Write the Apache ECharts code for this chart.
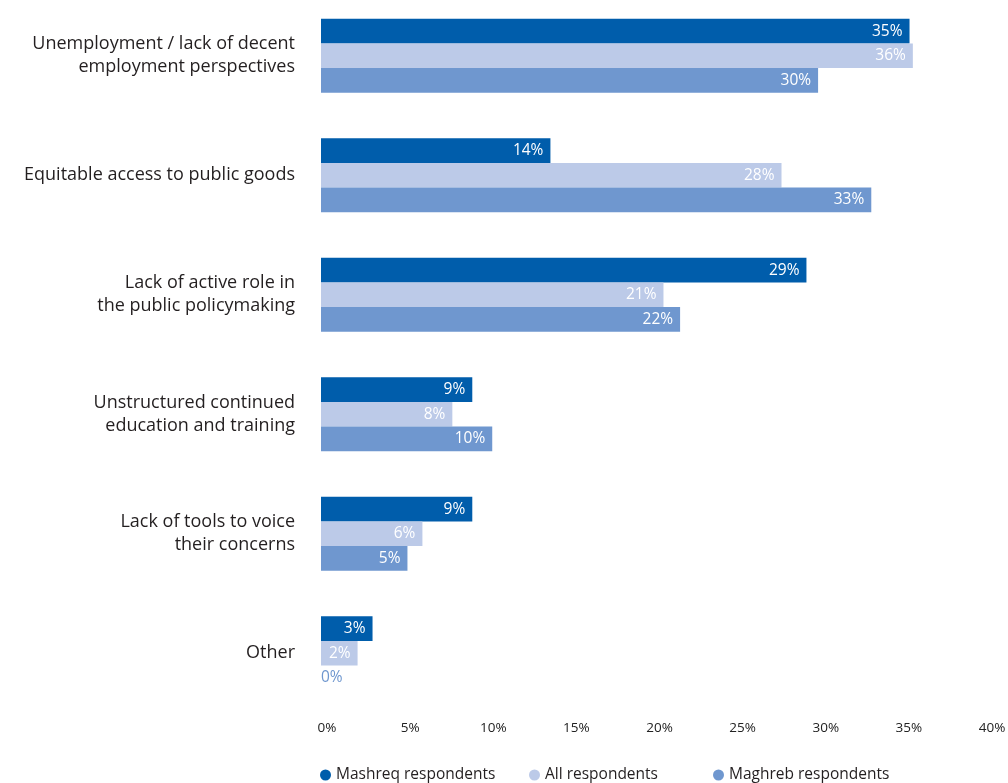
<!DOCTYPE html>
<html>
<head>
<meta charset="utf-8">
<script src="https://cdn.jsdelivr.net/npm/echarts@6/dist/echarts.min.js"></script>
<style>
  html, body { margin: 0; padding: 0; background: #ffffff; }
  #chart { width: 1008px; height: 783px; }
</style>
</head>
<body>
<div id="chart"></div>
<script>
// Challenges named by respondents, share of each group (%)
const categories = [
  'Unemployment / lack of decent\nemployment perspectives',
  'Equitable access to public goods',
  'Lack of active role in\nthe public policymaking',
  'Unstructured continued\neducation and training',
  'Lack of tools to voice\ntheir concerns',
  'Other'
];
const seriesNames = ['Mashreq respondents', 'All respondents', 'Maghreb respondents'];
const mashreq = [35.4, 13.8, 29.2, 9.1, 9.1, 3.1];
const allResp = [35.6, 27.7, 20.6, 7.9, 6.1, 2.2];
const maghreb = [29.9, 33.1, 21.6, 10.3, 5.2, 0];
const xTicks = [0, 5, 10, 15, 20, 25, 30, 35, 40];

const colors = ['#005dab', '#bccae8', '#6f97cf'];
const FONT = '"Open Sans", Lato, sans-serif';

function makeSeries(name, values, color) {
  return {
    name: name,
    type: 'bar',
    barWidth: 24.6,
    barGap: '0%',
    itemStyle: { color: color },
    label: {
      show: true,
      position: 'insideRight',
      distance: 7,
      color: '#ffffff',
      fontFamily: FONT,
      fontSize: 15.5,
      formatter: p => Math.round(p.value) + '%'
    },
    data: values.map(v => v === 0
      ? { value: v, label: { position: 'right', distance: 0, color: color } }
      : v)
  };
}

// one legend block per series, each placed at its own column
const legendLefts = [320, 529, 713];
const legends = seriesNames.map((name, i) => ({
  top: 767,
  left: legendLefts[i],
  padding: 0,
  icon: 'circle',
  itemWidth: 11,
  itemHeight: 11,
  itemGap: 0,
  textStyle: { color: '#231f20', fontFamily: FONT, fontSize: 15.5 },
  data: [name]
}));

const chart = echarts.init(document.getElementById('chart'), null, { renderer: 'canvas' });
chart.setOption({
  animation: false,
  color: colors,
  grid: {
    left: 321, right: 22, top: -4, bottom: 70,
    containLabel: false,
    outerBoundsMode: 'none'
  },
  xAxis: {
    type: 'value',
    min: xTicks[0],
    max: xTicks[xTicks.length - 1],
    interval: xTicks[1] - xTicks[0],
    axisLine: { show: false },
    axisTick: { show: false },
    splitLine: { show: false },
    axisLabel: {
      margin: 8,
      color: '#222222',
      fontFamily: FONT,
      fontSize: 13.5,
      padding: [0, 0, 0, 12],
      formatter: v => v + '%'
    }
  },
  yAxis: {
    type: 'category',
    inverse: true,
    data: categories,
    axisLine: { show: false },
    axisTick: { show: false },
    axisLabel: {
      margin: 26,
      color: '#231f20',
      fontFamily: FONT,
      fontSize: 18,
      lineHeight: 23,
      align: 'right'
    }
  },
  legend: legends,
  series: [
    makeSeries(seriesNames[0], mashreq, colors[0]),
    makeSeries(seriesNames[1], allResp, colors[1]),
    makeSeries(seriesNames[2], maghreb, colors[2])
  ]
});
</script>
</body>
</html>
